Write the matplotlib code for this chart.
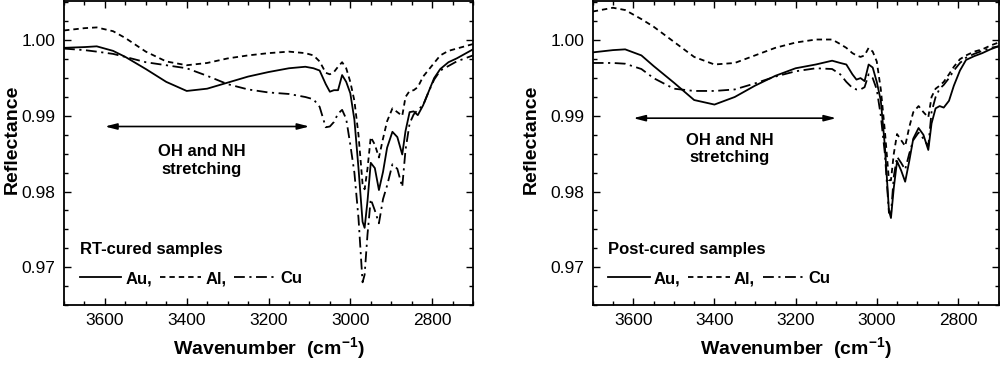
import numpy as np
import matplotlib
matplotlib.use('Agg')
import matplotlib.pyplot as plt
from matplotlib.ticker import MultipleLocator, FormatStrFormatter

plt.rcParams['font.family'] = ['Liberation Sans', 'DejaVu Sans']
plt.rcParams['mathtext.fontset'] = 'custom'
plt.rcParams['mathtext.rm'] = 'Liberation Sans:bold'

# wavenumber grid (cm-1) used for every curve
wavenumber = [3700, 3650, 3620, 3580, 3550, 3500, 3450, 3400, 3350, 3300, 3250, 3200,
              3150, 3110, 3090, 3075, 3060, 3050, 3040, 3030, 3020, 3010, 3000, 2990,
              2980, 2970, 2965, 2958, 2950, 2940, 2930, 2920, 2910, 2897, 2885, 2873,
              2865, 2855, 2845, 2835, 2822, 2810, 2795, 2780, 2760, 2740, 2720, 2700]

# RT-cured samples
rt_au = [0.9990, 0.9991, 0.9992, 0.9986, 0.9978, 0.9962, 0.9945, 0.9933, 0.9936, 0.9944, 0.9952, 0.9958,
         0.9963, 0.9965, 0.9963, 0.9960, 0.9942, 0.9932, 0.9934, 0.9934, 0.9954, 0.9945, 0.9930, 0.9895,
         0.9831, 0.9760, 0.9752, 0.9787, 0.9838, 0.9831, 0.9802, 0.9826, 0.9858, 0.9879, 0.9872, 0.9849,
         0.9880, 0.9905, 0.9906, 0.9901, 0.9914, 0.9930, 0.9950, 0.9962, 0.9971, 0.9976, 0.9982, 0.9988]
rt_al = [1.0013, 1.0016, 1.0017, 1.0012, 1.0003, 0.9985, 0.9972, 0.9967, 0.9970, 0.9976, 0.9980, 0.9983,
         0.9985, 0.9983, 0.9980, 0.9972, 0.9957, 0.9955, 0.9958, 0.9965, 0.9971, 0.9963, 0.9945, 0.9920,
         0.9875, 0.9810, 0.9803, 0.9830, 0.9872, 0.9862, 0.9845, 0.9870, 0.9893, 0.9910, 0.9905, 0.9900,
         0.9925, 0.9933, 0.9934, 0.9938, 0.9952, 0.9960, 0.9970, 0.9980, 0.9986, 0.9989, 0.9992, 0.9995]
rt_cu = [0.9989, 0.9987, 0.9985, 0.9982, 0.9978, 0.9971, 0.9967, 0.9963, 0.9953, 0.9942, 0.9935, 0.9931,
         0.9929, 0.9925, 0.9922, 0.9912, 0.9885, 0.9886, 0.9892, 0.9903, 0.9908, 0.9896, 0.9862, 0.9825,
         0.9765, 0.9680, 0.9690, 0.9743, 0.9790, 0.9775, 0.9758, 0.9790, 0.9808, 0.9836, 0.9830, 0.9806,
         0.9855, 0.9890, 0.9902, 0.9908, 0.9914, 0.9930, 0.9948, 0.9960, 0.9966, 0.9972, 0.9976, 0.9980]

# post-cured samples
pc_au = [0.9984, 0.9987, 0.9988, 0.9980, 0.9966, 0.9944, 0.9921, 0.9915, 0.9925, 0.9940, 0.9953, 0.9963,
         0.9968, 0.9973, 0.9970, 0.9968, 0.9955, 0.9948, 0.9950, 0.9946, 0.9968, 0.9964, 0.9945, 0.9920,
         0.9860, 0.9775, 0.9765, 0.9805, 0.9840, 0.9828, 0.9813, 0.9840, 0.9870, 0.9884, 0.9875, 0.9855,
         0.9890, 0.9910, 0.9913, 0.9911, 0.9920, 0.9940, 0.9960, 0.9974, 0.9979, 0.9983, 0.9988, 0.9992]
pc_al = [1.0038, 1.0043, 1.0040, 1.0028, 1.0018, 0.9998, 0.9978, 0.9968, 0.9970, 0.9980, 0.9990, 0.9997,
         1.0001, 1.0001, 0.9995, 0.9990, 0.9983, 0.9980, 0.9978, 0.9980, 0.9990, 0.9985, 0.9972, 0.9935,
         0.9880, 0.9815, 0.9815, 0.9850, 0.9876, 0.9868, 0.9860, 0.9885, 0.9905, 0.9913, 0.9905, 0.9898,
         0.9925, 0.9936, 0.9940, 0.9945, 0.9955, 0.9965, 0.9975, 0.9980, 0.9985, 0.9988, 0.9993, 0.9997]
pc_cu = [0.9970, 0.9970, 0.9969, 0.9962, 0.9950, 0.9936, 0.9933, 0.9933, 0.9935, 0.9943, 0.9952, 0.9959,
         0.9963, 0.9962, 0.9955, 0.9945, 0.9937, 0.9935, 0.9935, 0.9938, 0.9955, 0.9950, 0.9935, 0.9900,
         0.9850, 0.9772, 0.9770, 0.9820, 0.9846, 0.9838, 0.9829, 0.9850, 0.9868, 0.9878, 0.9870, 0.9860,
         0.9905, 0.9925, 0.9936, 0.9941, 0.9950, 0.9960, 0.9970, 0.9977, 0.9982, 0.9986, 0.9990, 0.9992]

metals = ['Au,', 'Al,', 'Cu']
panel_titles = ['RT-cured samples', 'Post-cured samples']
arrow_range = [3600, 3100]

styles = ['-', (0, (3, 2.2)), (0, (6, 2.5, 1.2, 2.5))]

fig = plt.figure(figsize=(10, 3.65), dpi=100)
ax1 = fig.add_axes([0.064, 0.1644, 0.409, 0.833])
ax2 = fig.add_axes([0.5927, 0.1644, 0.4058, 0.833])

panels = [(ax1, [rt_au, rt_al, rt_cu], 0.9886, 0.9841, -0.105),
          (ax2, [pc_au, pc_al, pc_cu], 0.9897, 0.9856, -0.13)]

for i, (ax, series, arrow_y, text_y, ylab_x) in enumerate(panels):
    lines = []
    for vals, ls, name in zip(series, styles, metals):
        ln, = ax.plot(wavenumber, vals, color='black', lw=1.3, linestyle=ls, label=name)
        lines.append(ln)

    ax.set_xlim(3700, 2700)
    ax.set_ylim(0.965, 1.0052)
    ax.xaxis.set_major_locator(MultipleLocator(200))
    ax.xaxis.set_minor_locator(MultipleLocator(50))
    ax.yaxis.set_major_locator(MultipleLocator(0.01))
    ax.yaxis.set_minor_locator(MultipleLocator(0.0025))
    ax.yaxis.set_major_formatter(FormatStrFormatter('%.2f'))
    ax.tick_params(which='both', direction='in', top=True, right=True, labelsize=12.5, width=1)
    ax.tick_params(which='major', length=5, pad=6)
    ax.tick_params(which='minor', length=3)
    for sp in ax.spines.values():
        sp.set_linewidth(1.3)

    ax.set_xlabel('Wavenumber  (cm$^{\\mathrm{-1}}$)', fontsize=14, fontweight='bold')
    ax.xaxis.set_label_coords(0.5, -0.10)
    ax.set_ylabel('Reflectance', fontsize=14, fontweight='bold')
    ax.yaxis.set_label_coords(ylab_x, 0.546)

    ax.annotate('', xy=(arrow_range[1], arrow_y), xytext=(arrow_range[0], arrow_y),
                arrowprops=dict(arrowstyle='<|-|>,head_length=0.7,head_width=0.18',
                                color='black', lw=1.2, shrinkA=0, shrinkB=0))
    ax.text(3363, text_y, 'OH and NH\nstretching', ha='center', va='center',
            fontsize=12, fontweight='bold', linespacing=1.2)

    leg = ax.legend(handles=lines, ncol=3, loc='lower left', bbox_to_anchor=(0.038, 0.062),
                    frameon=False, title=panel_titles[i], alignment='left',
                    prop={'weight': 'bold', 'size': 12},
                    title_fontproperties={'weight': 'bold', 'size': 12},
                    handlelength=2.5, handletextpad=0.25, columnspacing=0.45,
                    labelspacing=0.85, borderpad=0, borderaxespad=0)

fig.savefig('out.png', dpi=100)
